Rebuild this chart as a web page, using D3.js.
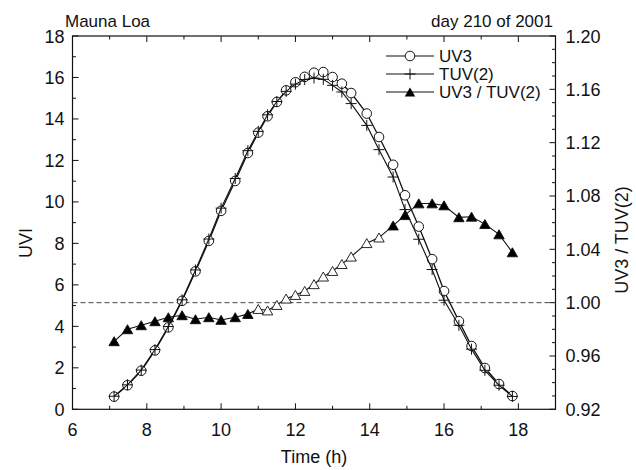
<!DOCTYPE html>
<html><head><meta charset="utf-8">
<script src="https://cdn.jsdelivr.net/npm/d3@7"></script>
<style>body{margin:0;background:#fff}svg{display:block}text{font-family:"Liberation Sans",Arial,sans-serif;fill:#111}</style>
</head><body><svg id="c" width="636" height="470"></svg>
<script>
const hours = [7.12, 7.48, 7.85, 8.22, 8.58, 8.95, 9.31, 9.67, 10.0, 10.38, 10.72, 11.0, 11.25, 11.5, 11.75, 12.0, 12.25, 12.5, 12.75, 13.0, 13.25, 13.5, 13.92, 14.25, 14.63, 14.95, 15.32, 15.68, 16.0, 16.4, 16.74, 17.1, 17.48, 17.84];
const uv3 = [0.61, 1.16, 1.86, 2.84, 3.95, 5.23, 6.65, 8.12, 9.57, 11.01, 12.36, 13.34, 14.13, 14.82, 15.38, 15.77, 16.03, 16.23, 16.26, 16.02, 15.70, 15.25, 14.26, 13.13, 11.79, 10.32, 8.81, 7.24, 5.70, 4.25, 3.05, 1.99, 1.22, 0.64];
const tuv2 = [0.63, 1.18, 1.89, 2.88, 3.99, 5.28, 6.72, 8.21, 9.70, 11.13, 12.47, 13.40, 14.20, 14.84, 15.33, 15.68, 15.90, 15.97, 15.91, 15.62, 15.30, 14.74, 13.69, 12.52, 11.20, 9.63, 8.20, 6.74, 5.26, 4.05, 2.90, 1.88, 1.16, 0.62];
const ratio = [0.971, 0.980, 0.983, 0.986, 0.989, 0.9905, 0.9875, 0.989, 0.987, 0.989, 0.9914, 0.9952, 0.9941, 0.9982, 1.003, 1.0057, 1.0087, 1.0138, 1.0195, 1.0237, 1.0289, 1.0345, 1.0446, 1.0488, 1.0578, 1.0656, 1.0744, 1.0744, 1.0729, 1.0640, 1.0644, 1.0589, 1.0512, 1.0377];
const ratioFilled = [1,1,1,1,1,1,1,1,1,1,1, 0,0,0,0,0,0,0,0,0,0,0,0,0, 1,1,1,1,1,1,1,1,1,1];
const xTicks = [6, 8, 10, 12, 14, 16, 18];
const yTicks = [0, 2, 4, 6, 8, 10, 12, 14, 16, 18];
const rTicks = [0.92, 0.96, 1.00, 1.04, 1.08, 1.12, 1.16, 1.20];
const legendLabels = ["UV3", "TUV(2)", "UV3 / TUV(2)"];

const L = 72.5, R = 555.5, T = 36, B = 409.3;
const svg = d3.select("#c");
const x = d3.scaleLinear().domain([6, 19]).range([L, R]);
const y = d3.scaleLinear().domain([0, 18]).range([B, T]);
const yr = d3.scaleLinear().domain([0.92, 1.20]).range([B, T]);
const FS = 18;

// ticks (inward)
const tk = svg.append("g").attr("stroke", "#111").attr("stroke-width", 1);
d3.range(6, 20, 1).forEach(v => {
  const len = v % 2 === 0 ? 6 : 3.5;
  tk.append("line").attr("x1", x(v)).attr("x2", x(v)).attr("y1", B).attr("y2", B - len);
  tk.append("line").attr("x1", x(v)).attr("x2", x(v)).attr("y1", T).attr("y2", T + len);
});
d3.range(0, 19, 1).forEach(v => {
  const len = v % 2 === 0 ? 6 : 3.5;
  tk.append("line").attr("x1", L).attr("x2", L + len).attr("y1", y(v)).attr("y2", y(v));
});
d3.range(92, 121, 1).forEach(k => {
  const v = k / 100;
  const len = k % 4 === 0 ? 6 : 3.5;
  tk.append("line").attr("x1", R).attr("x2", R - len).attr("y1", yr(v)).attr("y2", yr(v));
});
svg.append("rect").attr("x", L).attr("y", T).attr("width", R - L).attr("height", B - T)
  .attr("fill", "none").attr("stroke", "#111").attr("stroke-width", 1.2);

// tick labels
svg.append("g").selectAll("text").data(xTicks).join("text")
  .attr("x", d => x(d)).attr("y", B + 27).attr("text-anchor", "middle").attr("font-size", FS).text(d => d);
svg.append("g").selectAll("text").data(yTicks).join("text")
  .attr("x", L - 8).attr("y", d => y(d) + 6.5).attr("text-anchor", "end").attr("font-size", FS).text(d => d);
svg.append("g").selectAll("text").data(rTicks).join("text")
  .attr("x", R + 10).attr("y", d => yr(d) + 6.5).attr("text-anchor", "start").attr("font-size", FS).text(d => d.toFixed(2));

// titles
svg.append("text").attr("x", 65).attr("y", 27).attr("font-size", 17).text("Mauna Loa");
svg.append("text").attr("x", 553).attr("y", 27).attr("text-anchor", "end").attr("font-size", 17).text("day 210 of 2001");
svg.append("text").attr("x", (L + R) / 2).attr("y", 463).attr("text-anchor", "middle").attr("font-size", FS).text("Time (h)");
svg.append("text").attr("transform", "translate(32,243) rotate(-90)").attr("text-anchor", "middle").attr("font-size", FS).text("UVI");
svg.append("text").attr("transform", "translate(628,240) rotate(-90)").attr("text-anchor", "middle").attr("font-size", FS).text("UV3 / TUV(2)");

// reference line at ratio 1
svg.append("line").attr("x1", L).attr("x2", R).attr("y1", yr(1)).attr("y2", yr(1))
  .attr("stroke", "#444").attr("stroke-width", 1).attr("stroke-dasharray", "5,3");

const idx = d3.range(hours.length);
const triPath = "M0,-4.6L5.2,4.4L-5.2,4.4Z";
const crossPath = "M-5.5,0H5.5M0,-5.5V5.5";

// ratio series
svg.append("path").datum(idx).attr("fill", "none").attr("stroke", "#111").attr("stroke-width", 1.1)
  .attr("d", d3.line().x(i => x(hours[i])).y(i => yr(ratio[i])));
svg.append("g").selectAll("path").data(idx).join("path")
  .attr("transform", i => `translate(${x(hours[i])},${yr(ratio[i])})`)
  .attr("d", triPath).attr("fill", i => ratioFilled[i] ? "#000" : "#fff").attr("stroke", "#111").attr("stroke-width", 0.9);

// UV3 series
svg.append("path").datum(idx).attr("fill", "none").attr("stroke", "#111").attr("stroke-width", 1.3)
  .attr("d", d3.line().x(i => x(hours[i])).y(i => y(uv3[i])));
svg.append("g").selectAll("circle").data(idx).join("circle")
  .attr("cx", i => x(hours[i])).attr("cy", i => y(uv3[i])).attr("r", 4.8)
  .attr("fill", "#fff").attr("stroke", "#111").attr("stroke-width", 1);

// TUV(2) series
svg.append("path").datum(idx).attr("fill", "none").attr("stroke", "#111").attr("stroke-width", 1.1)
  .attr("d", d3.line().x(i => x(hours[i])).y(i => y(tuv2[i])));
svg.append("g").selectAll("path").data(idx).join("path")
  .attr("transform", i => `translate(${x(hours[i])},${y(tuv2[i])})`)
  .attr("d", crossPath).attr("fill", "none").attr("stroke", "#111").attr("stroke-width", 1);

// legend
const lg = svg.append("g");
const ly = [56, 74, 92];
ly.forEach((yy, k) => {
  lg.append("line").attr("x1", 386).attr("x2", 434).attr("y1", yy).attr("y2", yy).attr("stroke", "#111").attr("stroke-width", 1.1);
  const cx = 410;
  if (k === 0) lg.append("circle").attr("cx", cx).attr("cy", yy).attr("r", 4.8).attr("fill", "#fff").attr("stroke", "#111");
  if (k === 1) lg.append("path").attr("transform", `translate(${cx},${yy})`).attr("d", crossPath).attr("stroke", "#111");
  if (k === 2) lg.append("path").attr("transform", `translate(${cx},${yy})`).attr("d", triPath).attr("fill", "#000");
  lg.append("text").attr("x", 439).attr("y", yy + 6).attr("font-size", 17).text(legendLabels[k]);
});
</script></body></html>
